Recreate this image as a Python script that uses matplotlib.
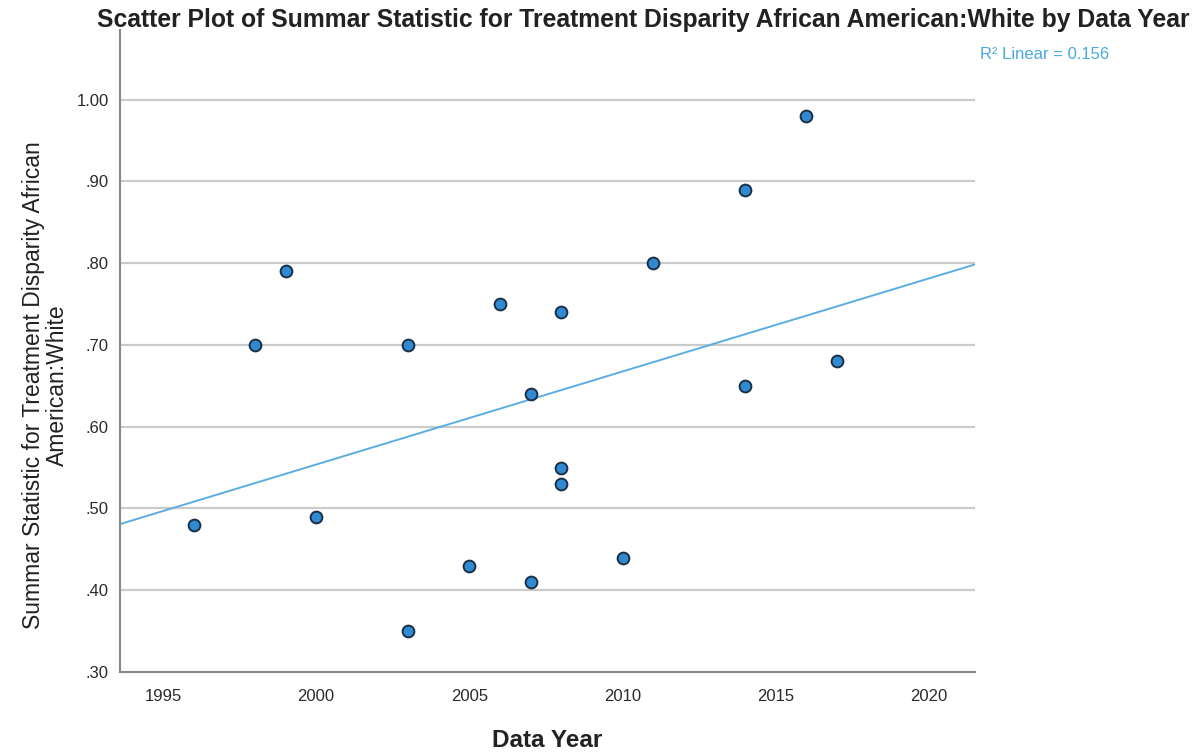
import numpy as np
import matplotlib.pyplot as plt

plt.rcParams['font.family'] = ['Liberation Sans', 'DejaVu Sans']

# data
years = [1996, 1998, 1999, 2000, 2003, 2003, 2005, 2006, 2007, 2007,
         2008, 2008, 2008, 2010, 2011, 2014, 2014, 2016, 2017]
values = [0.48, 0.70, 0.79, 0.49, 0.70, 0.35, 0.43, 0.75, 0.64, 0.41,
          0.74, 0.55, 0.53, 0.44, 0.80, 0.89, 0.65, 0.98, 0.68]
x_ticks = [1995, 2000, 2005, 2010, 2015, 2020]
y_ticks = [0.30, 0.40, 0.50, 0.60, 0.70, 0.80, 0.90, 1.00]
y_labels = [".30", ".40", ".50", ".60", ".70", ".80", ".90", "1.00"]
r2_text = "R\u00b2 Linear = 0.156"

fig = plt.figure(figsize=(12.03, 7.52), dpi=100)
ax = fig.add_axes([0.0998, 0.1064, 0.7107, 0.8536])

xlim = (1993.6, 2021.5)
ax.set_xlim(*xlim)
ax.set_ylim(0.30, 1.085)

for yt in y_ticks[1:]:
    ax.axhline(yt, color='#cbcbcb', lw=1.6, zorder=1)

# linear fit line across the full x range
slope, icpt = np.polyfit(years, values, 1)
xs = np.array(xlim)
ax.plot(xs, icpt + slope * xs, color='#5aaee0', lw=1.4, zorder=2)

ax.scatter(years, values, s=72, color='#2f8ad2', edgecolor='#1b2f45',
           linewidth=1.4, zorder=3)

ax.set_xticks(x_ticks)
ax.set_yticks(y_ticks)
ax.set_yticklabels(y_labels)
ax.tick_params(axis='both', length=0, labelsize=12, colors='#2a2a2a')
ax.tick_params(axis='x', pad=12)
ax.tick_params(axis='y', pad=8)

for s in ['top', 'right']:
    ax.spines[s].set_visible(False)
for s in ['left', 'bottom']:
    ax.spines[s].set_color('#888888')
    ax.spines[s].set_linewidth(1.5)

ax.set_xlabel("Data Year", fontsize=17.5, fontweight='bold', color='#222222', labelpad=18)
fig.text(0.0378, 0.488, "Summar Statistic for Treatment Disparity African\nAmerican:White",
         rotation=90, ha='center', va='center', multialignment='center',
         fontsize=16.5, color='#222222', linespacing=1.05)

fig.text(0.5345, 0.974, "Scatter Plot of Summar Statistic for Treatment Disparity African American:White by Data Year",
         ha='center', va='center', fontsize=17.8, fontweight='bold', color='#222222')
fig.text(0.8687, 0.927, r2_text, ha='center', va='center', fontsize=12, color='#4aa8dc')

fig.savefig("out.png", dpi=100)
